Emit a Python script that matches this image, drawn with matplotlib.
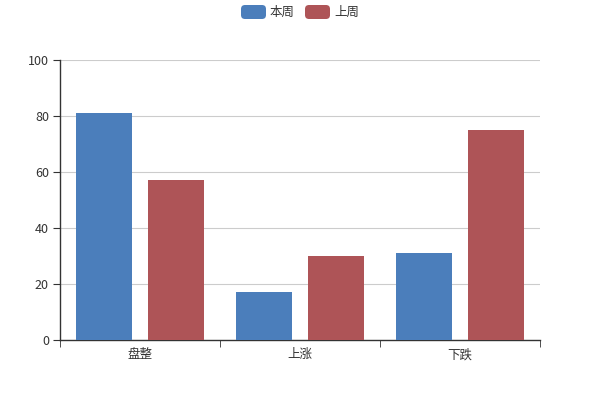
import matplotlib
matplotlib.use("Agg")
import matplotlib.pyplot as plt
from matplotlib.patches import FancyBboxPatch
import numpy as np

plt.rcParams['font.family'] = ['Noto Sans CJK SC', 'DejaVu Sans']

categories = ["盘整", "上涨", "下跌"]
series_names = ["本周", "上周"]
this_week = [81, 17, 31]
last_week = [57, 30, 75]
colors = ["#4b7ebb", "#ae5457"]

fig = plt.figure(figsize=(6, 4), dpi=100)
ax = fig.add_axes([0.1, 0.15, 0.8, 0.7])

x = np.arange(len(categories))
w = 0.35
ax.bar(x - 0.2275, this_week, width=w, color=colors[0], zorder=3)
ax.bar(x + 0.2275, last_week, width=w, color=colors[1], zorder=3)

ax.set_xlim(-0.5, len(categories) - 0.5)
ax.set_ylim(0, 100)
ax.set_yticks(range(0, 101, 20))
ax.yaxis.grid(True, color="#cccccc", linewidth=0.8, zorder=0)

# category labels centered, ticks at boundaries
ax.set_xticks(x)
ax.set_xticklabels(categories)
ax.tick_params(axis="x", length=0, labelsize=9, colors="#333333", pad=6)
ax.set_xticks(np.arange(len(categories) + 1) - 0.5, minor=True)
ax.tick_params(axis="x", which="minor", length=5, color="#333333")
ax.tick_params(axis="y", length=5, labelsize=9, colors="#333333", pad=3)

for s in ["top", "right"]:
    ax.spines[s].set_visible(False)
for s in ["left", "bottom"]:
    ax.spines[s].set_color("#333333")
    ax.spines[s].set_linewidth(1)

# legend, drawn like echarts (pixel coords, origin bottom-left)
lx = [241, 305]
for i, name in enumerate(series_names):
    box = FancyBboxPatch((lx[i], 400 - 19), 25, 14,
                         boxstyle="round,pad=0,rounding_size=4",
                         transform=None, facecolor=colors[i],
                         edgecolor="none")
    fig.patches.append(box)
    fig.text((lx[i] + 29) / 600, 1 - 12 / 400, name, fontsize=9,
             color="#333333", va="center", ha="left")

fig.savefig("out.png", dpi=100)
